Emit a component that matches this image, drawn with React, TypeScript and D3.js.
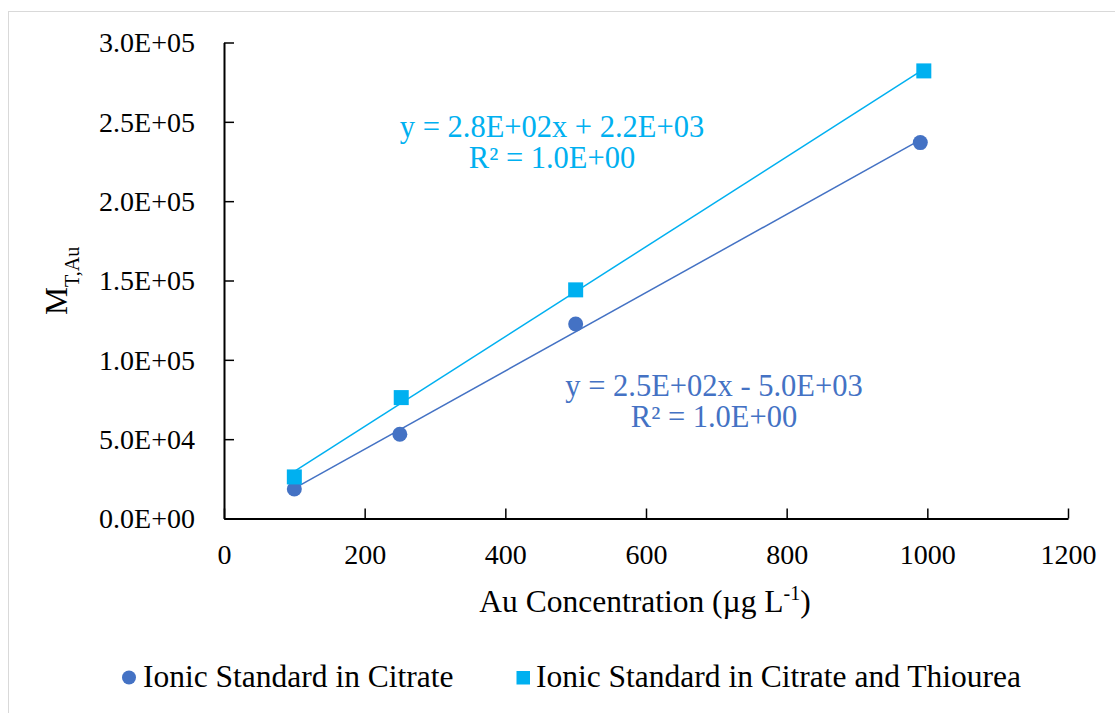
import { useEffect, useRef } from "react";
import * as d3 from "d3";

// values
const citrateX = [100, 250, 500, 990];
const citrateY = [18600, 53100, 122600, 236900];
const thioureaX = [100, 252, 500, 995];
const thioureaY = [26200, 76200, 144100, 282100];

const xTicks = [0, 200, 400, 600, 800, 1000, 1200];
const yTicks = [0, 50000, 100000, 150000, 200000, 250000, 300000];

const seriesNames = ["Ionic Standard in Citrate", "Ionic Standard in Citrate and Thiourea"];
const colors = ["#4472C4", "#00B0F0"];
const eqCitrate = ["y = 2.5E+02x - 5.0E+03", "R² = 1.0E+00"];
const eqThiourea = ["y = 2.8E+02x + 2.2E+03", "R² = 1.0E+00"];

const FONT = "'Liberation Serif', 'Times New Roman', serif";

const fmtE = (v: number) => {
  const [m, e] = v.toExponential(1).split("e");
  const n = parseInt(e, 10);
  return `${m}E${n < 0 ? "-" : "+"}${String(Math.abs(n)).padStart(2, "0")}`;
};

// least squares line, used for the trendline like Excel does
const fit = (xs: number[], ys: number[]) => {
  const mx = d3.mean(xs) as number;
  const my = d3.mean(ys) as number;
  let sxy = 0;
  let sxx = 0;
  xs.forEach((x, i) => {
    sxy += (x - mx) * (ys[i] - my);
    sxx += (x - mx) * (x - mx);
  });
  const b = sxy / sxx;
  return { b, a: my - b * mx };
};

const App = () => {
  const ref = useRef<SVGSVGElement | null>(null);

  useEffect(() => {
    if (!ref.current) return;
    const svg = d3.select(ref.current);
    svg.selectAll("*").remove();

    const left = 224;
    const right = 1068;
    const top = 42.5;
    const bottom = 518.5;

    const x = d3.scaleLinear().domain([0, 1200]).range([left, right]);
    const y = d3.scaleLinear().domain([0, 300000]).range([bottom, top]);

    svg
      .append("rect")
      .attr("x", 8.5)
      .attr("y", 11.5)
      .attr("width", 1200)
      .attr("height", 800)
      .attr("fill", "white")
      .attr("stroke", "#d9d9d9")
      .attr("stroke-width", 1);

    // y axis
    const gy = svg
      .append("g")
      .attr("transform", `translate(${left},0)`)
      .call(
        d3
          .axisLeft(y)
          .tickValues(yTicks)
          .tickSizeInner(-10)
          .tickSizeOuter(0)
          .tickPadding(29)
          .tickFormat(d => fmtE(d as number))
      );
    gy.select(".domain").attr("stroke", "#000").attr("stroke-width", 2);
    gy.selectAll(".tick line").attr("stroke", "#000").attr("stroke-width", 1.5);
    gy.selectAll(".tick text")
      .attr("font-family", FONT)
      .attr("font-size", 28)
      .attr("fill", "#000")
      .attr("dy", "0.33em");

    // x axis
    const gx = svg
      .append("g")
      .attr("transform", `translate(0,${bottom})`)
      .call(
        d3
          .axisBottom(x)
          .tickValues(xTicks)
          .tickSizeInner(-10)
          .tickSizeOuter(0)
          .tickPadding(29)
          .tickFormat(d3.format("d"))
      );
    gx.select(".domain").attr("stroke", "#000").attr("stroke-width", 2);
    gx.selectAll(".tick line").attr("stroke", "#000").attr("stroke-width", 1.5);
    gx.selectAll(".tick text")
      .attr("font-family", FONT)
      .attr("font-size", 28)
      .attr("fill", "#000")
      .attr("dy", "0.6em");

    // trendlines
    const series = [
      { xs: citrateX, ys: citrateY, color: colors[0] },
      { xs: thioureaX, ys: thioureaY, color: colors[1] },
    ];
    series.forEach(s => {
      const { a, b } = fit(s.xs, s.ys);
      const x0 = d3.min(s.xs) as number;
      const x1 = d3.max(s.xs) as number;
      svg
        .append("path")
        .datum([x0, x1])
        .attr("fill", "none")
        .attr("stroke", s.color)
        .attr("stroke-width", 1.5)
        .attr(
          "d",
          d3
            .line<number>()
            .x(d => x(d))
            .y(d => y(a + b * d))
        );
    });

    // markers
    svg
      .append("g")
      .selectAll("circle")
      .data(citrateX.map((v, i) => [v, citrateY[i]]))
      .join("circle")
      .attr("cx", d => x(d[0]))
      .attr("cy", d => y(d[1]))
      .attr("r", 7.5)
      .attr("fill", colors[0]);

    svg
      .append("g")
      .selectAll("rect")
      .data(thioureaX.map((v, i) => [v, thioureaY[i]]))
      .join("rect")
      .attr("x", d => x(d[0]) - 7.5)
      .attr("y", d => y(d[1]) - 7.5)
      .attr("width", 15)
      .attr("height", 15)
      .attr("fill", colors[1]);

    // equation labels
    const eq = (lines: string[], cx: number, y0: number, color: string) => {
      lines.forEach((t, i) => {
        svg
          .append("text")
          .attr("x", cx)
          .attr("y", y0 + i * 31)
          .attr("text-anchor", "middle")
          .attr("font-family", FONT)
          .attr("font-size", 30.5)
          .attr("fill", color)
          .text(t);
      });
    };
    eq(eqThiourea, 552, 136.5, colors[1]);
    eq(eqCitrate, 714, 395.5, colors[0]);

    // axis titles
    const xt = svg
      .append("text")
      .attr("x", 645)
      .attr("y", 611.5)
      .attr("text-anchor", "middle")
      .attr("font-family", FONT)
      .attr("font-size", 31.5)
      .attr("fill", "#000");
    xt.append("tspan").text("Au Concentration (µg L");
    xt.append("tspan").attr("font-size", 20).attr("dy", -12).text("-1");
    xt.append("tspan").attr("dy", 12).text(")");

    const yt = svg
      .append("text")
      .attr("transform", "translate(66.5,315) rotate(-90)")
      .attr("text-anchor", "start")
      .attr("font-family", FONT)
      .attr("font-size", 31.5)
      .attr("fill", "#000");
    yt.append("tspan").text("M");
    yt.append("tspan").attr("font-size", 20).attr("dy", 12).text("T,Au");

    // legend
    const lg = svg.append("g").attr("font-family", FONT).attr("font-size", 31.5);
    lg.append("circle").attr("cx", 129).attr("cy", 677.5).attr("r", 7).attr("fill", colors[0]);
    lg.append("text").attr("x", 143).attr("y", 687).attr("fill", "#000").text(seriesNames[0]);
    lg.append("rect")
      .attr("x", 516.5)
      .attr("y", 671)
      .attr("width", 13.5)
      .attr("height", 13.5)
      .attr("fill", colors[1]);
    lg.append("text").attr("x", 536).attr("y", 687).attr("fill", "#000").text(seriesNames[1]);
  }, []);

  return (
    <svg
      ref={ref}
      width={1115}
      height={713}
      style={{ position: "absolute", left: 0, top: 0, background: "white" }}
    />
  );
};

export default App;
